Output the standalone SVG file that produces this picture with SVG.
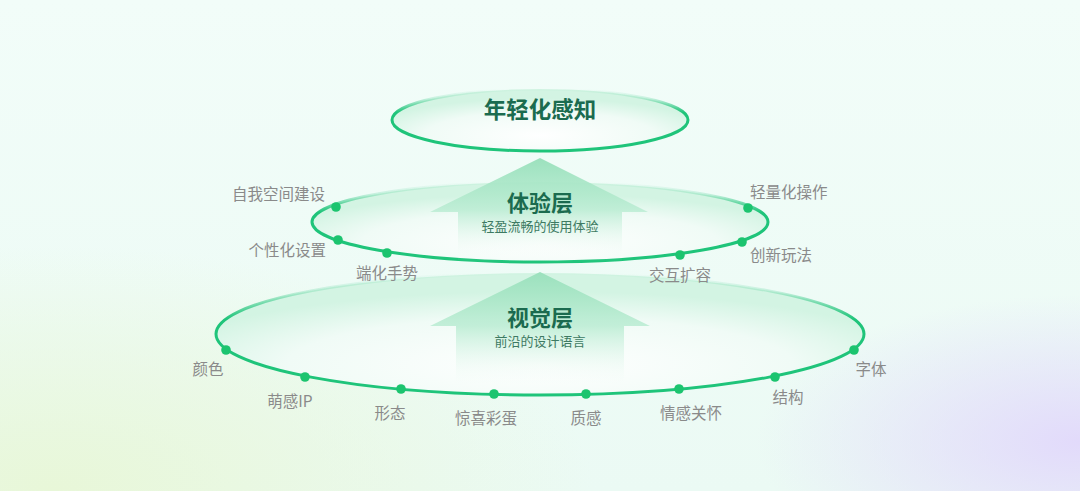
<svg xmlns="http://www.w3.org/2000/svg" width="1080" height="491" viewBox="0 0 1080 491">
<defs>
<linearGradient id="bg" x1="0" y1="0" x2="0" y2="1"><stop offset="0" stop-color="#f2fdf9"/><stop offset="1" stop-color="#ebfaf4"/></linearGradient>
<radialGradient id="bgL" cx="0.05" cy="1" r="0.5"><stop offset="0" stop-color="#e8f7d8"/><stop offset="1" stop-color="#e8f7d8" stop-opacity="0"/></radialGradient>
<radialGradient id="bgR" cx="1" cy="0.9" r="0.3"><stop offset="0" stop-color="#e2dafb"/><stop offset="1" stop-color="#e2dafb" stop-opacity="0"/></radialGradient>
<radialGradient id="efill" cx="0.5" cy="0.75" r="0.6"><stop offset="0" stop-color="#ffffff" stop-opacity="0.95"/><stop offset="0.65" stop-color="#f0fbf6"/><stop offset="1" stop-color="#d3f4e3"/></radialGradient>
<linearGradient id="estroke" x1="0" y1="0" x2="0" y2="1"><stop offset="0" stop-color="#1fc47a" stop-opacity="0"/><stop offset="0.15" stop-color="#1fc47a" stop-opacity="0.2"/><stop offset="0.38" stop-color="#1fc47a"/><stop offset="1" stop-color="#1fc47a"/></linearGradient>
<linearGradient id="arr1" gradientUnits="userSpaceOnUse" x1="0" y1="158" x2="0" y2="262"><stop offset="0" stop-color="#9be1bd"/><stop offset="0.5" stop-color="#b6ebd0" stop-opacity="0.8"/><stop offset="1" stop-color="#ffffff" stop-opacity="0"/></linearGradient>
<linearGradient id="arr2" gradientUnits="userSpaceOnUse" x1="0" y1="272" x2="0" y2="392"><stop offset="0" stop-color="#9be1bd"/><stop offset="0.45" stop-color="#b6ebd0" stop-opacity="0.8"/><stop offset="1" stop-color="#ffffff" stop-opacity="0"/></linearGradient>
<style>
.ell{fill:url(#efill);stroke:url(#estroke);stroke-width:3}
.dot{fill:#1cc46f}
.lab{font-family:"Noto Sans CJK SC","Noto Sans",sans-serif;font-size:15.5px;fill:#8a8a8a}
.ttl{font-family:"Noto Sans CJK SC","Noto Sans",sans-serif;font-weight:bold;fill:#1b6b4f;text-anchor:middle}
.sub{font-family:"Noto Sans CJK SC","Noto Sans",sans-serif;font-size:13px;fill:#3d7a62;text-anchor:middle}
</style>
</defs>
<rect width="1080" height="491" fill="url(#bg)"/>
<rect width="1080" height="491" fill="url(#bgL)"/>
<rect width="1080" height="491" fill="url(#bgR)"/>

<g id="visual-layer">
<ellipse class="ell" cx="540" cy="334" rx="324" ry="61"/>
<path d="M540,272 L650,326 L624,326 L624,392 L456,392 L456,326 L430,326 Z" fill="url(#arr2)"/>
<text class="ttl" x="540" y="326" font-size="22">视觉层</text>
<text class="sub" x="540" y="346">前沿的设计语言</text>
</g>

<g id="experience-layer">
<ellipse class="ell" cx="540" cy="222" rx="228" ry="40"/>
<path d="M540,158 L648,212 L622,212 L622,262 L458,262 L458,212 L430,212 Z" fill="url(#arr1)"/>
<text class="ttl" x="540" y="211" font-size="22">体验层</text>
<text class="sub" x="540" y="231">轻盈流畅的使用体验</text>
</g>

<g id="youth-perception">
<ellipse class="ell" cx="540" cy="120" rx="148" ry="31"/>
<text class="ttl" x="540" y="118" font-size="22.5">年轻化感知</text>
</g>

<g id="connectors">
<circle class="dot" cx="336" cy="207" r="4.8"/>
<circle class="dot" cx="338" cy="240" r="4.8"/>
<circle class="dot" cx="387" cy="253" r="4.8"/>
<circle class="dot" cx="680" cy="255" r="4.8"/>
<circle class="dot" cx="742" cy="242" r="4.8"/>
<circle class="dot" cx="748" cy="208" r="4.8"/>
<circle class="dot" cx="226" cy="350" r="4.8"/>
<circle class="dot" cx="305" cy="377" r="4.8"/>
<circle class="dot" cx="401" cy="389" r="4.8"/>
<circle class="dot" cx="494" cy="394" r="4.8"/>
<circle class="dot" cx="586" cy="394" r="4.8"/>
<circle class="dot" cx="679" cy="389" r="4.8"/>
<circle class="dot" cx="775" cy="377" r="4.8"/>
<circle class="dot" cx="854" cy="350" r="4.8"/>
</g>

<g id="labels">
<text class="lab" x="325" y="200" text-anchor="end">自我空间建设</text>
<text class="lab" x="326" y="256" text-anchor="end">个性化设置</text>
<text class="lab" x="387" y="279" text-anchor="middle">端化手势</text>
<text class="lab" x="680" y="281" text-anchor="middle">交互扩容</text>
<text class="lab" x="750" y="198">轻量化操作</text>
<text class="lab" x="750" y="261">创新玩法</text>
<text class="lab" x="208" y="375" text-anchor="middle">颜色</text>
<text class="lab" x="290" y="407" text-anchor="middle">萌感IP</text>
<text class="lab" x="390" y="419" text-anchor="middle">形态</text>
<text class="lab" x="486" y="424" text-anchor="middle">惊喜彩蛋</text>
<text class="lab" x="586" y="424" text-anchor="middle">质感</text>
<text class="lab" x="691" y="419" text-anchor="middle">情感关怀</text>
<text class="lab" x="788" y="403" text-anchor="middle">结构</text>
<text class="lab" x="871" y="375" text-anchor="middle">字体</text>
</g>
</svg>
